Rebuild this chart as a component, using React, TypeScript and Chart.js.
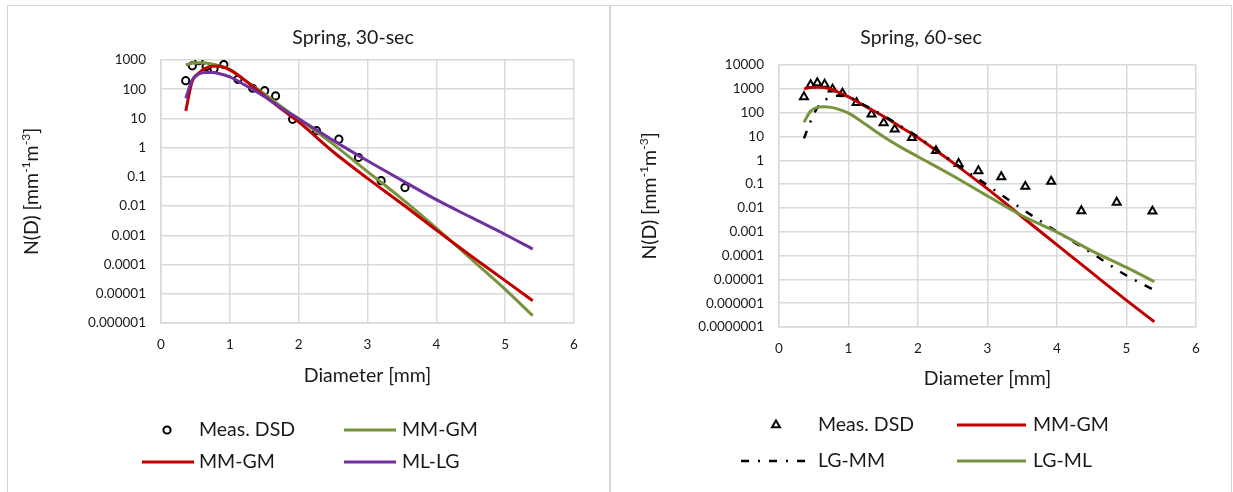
import React, { useEffect, useRef } from "react";
import { Chart, registerables } from "chart.js";

Chart.register(...registerables);

const FONT = "Lato, 'Open Sans', sans-serif";
const TEXT = "#1a1a1a";
const GRID = "#d9d9d9";

// ---------- data ----------
// Joss-Waldvogel RD-80 class mean diameters [mm]
const D_MEAS = [0.359, 0.455, 0.551, 0.656, 0.771, 0.913, 1.116, 1.331, 1.506, 1.665, 1.912, 2.259, 2.584, 2.869, 3.198, 3.544, 3.916, 4.35, 4.859, 5.373];
// diameters at which the fitted curves were read [mm]
const D_FIT = [0.36, 0.45, 0.55, 0.65, 0.75, 0.85, 1.0, 1.25, 1.5, 1.75, 2.0, 2.5, 3.0, 3.5, 4.0, 4.5, 5.0, 5.4];

// Spring, 30-sec
const S30_MEAS = [196, 630, 950, 590, 500, 700, 218, 108, 89, 59, 9.3, 3.8, 1.95, 0.46, 0.074, 0.043];
const S30_MMGM_GREEN = [676, 776, 813, 794, 724, 631, 479, 178, 70.8, 25.1, 9.55, 1.32, 0.151, 0.0178, 0.00178, 1.58e-4, 1.41e-5, 1.78e-6];
const S30_MMGM_RED = [18.2, 178, 355, 525, 617, 617, 457, 178, 60.3, 20.9, 7.59, 0.724, 0.0891, 0.012, 0.00151, 2.0e-4, 2.82e-5, 5.75e-6];
const S30_MLLG = [49, 200, 331, 372, 372, 339, 263, 126, 56.2, 22.4, 9.77, 1.78, 0.355, 0.0759, 0.0166, 0.00417, 0.00107, 3.39e-4];

// Spring, 60-sec
const S60_MEAS = [460, 1450, 1780, 1540, 960, 650, 260, 87, 37, 20, 8.9, 2.5, 0.72, 0.36, 0.2, 0.079, 0.13, 0.0075, 0.017, 0.0072];
const S60_MMGM = [1000, 1122, 1175, 1122, 955, 724, 457, 178, 70.8, 25.1, 8.91, 0.794, 0.0631, 0.00417, 2.82e-4, 1.91e-5, 1.32e-6, 1.66e-7];
const S60_LGMM = [8.32, 39.8, 158, 316, 447, 513, 457, 191, 75.9, 27.5, 9.55, 0.871, 0.0891, 0.00891, 0.001, 1.26e-4, 1.45e-5, 3.55e-6];
const S60_LGML = [39.8, 112, 166, 178, 166, 141, 95.5, 31.6, 10, 3.55, 1.41, 0.224, 0.0316, 0.00468, 9.55e-4, 1.58e-4, 3.16e-5, 7.94e-6];

// ticks
const X_TICKS = [0, 1, 2, 3, 4, 5, 6];
const X_LABELS = ["0", "1", "2", "3", "4", "5", "6"];
const Y_TICKS_30 = [1e-6, 1e-5, 1e-4, 1e-3, 1e-2, 1e-1, 1, 10, 100, 1000];
const Y_LABELS_30 = ["0.000001", "0.00001", "0.0001", "0.001", "0.01", "0.1", "1", "10", "100", "1000"];
const Y_TICKS_60 = [1e-7, 1e-6, 1e-5, 1e-4, 1e-3, 1e-2, 1e-1, 1, 10, 100, 1000, 10000];
const Y_LABELS_60 = ["0.0000001", "0.000001", "0.00001", "0.0001", "0.001", "0.01", "0.1", "1", "10", "100", "1000", "10000"];

const TITLE_30 = "Spring, 30-sec";
const TITLE_60 = "Spring, 60-sec";
const X_TITLE = "Diameter [mm]";
const Y_TITLE_PARTS = [
  { t: "N(D) [mm", sup: false },
  { t: "-1", sup: true },
  { t: "m", sup: false },
  { t: "-3", sup: true },
  { t: "]", sup: false },
];

const pts = (xs: number[], ys: number[]) => ys.map((y, i) => ({ x: xs[i], y }));

// ---------- plugins ----------
const excelTitle = {
  id: "excelTitle",
  afterDraw(chart: any, _args: any, opts: any) {
    const ctx = chart.ctx as CanvasRenderingContext2D;
    ctx.save();
    ctx.font = `normal ${opts.size}px ${FONT}`;
    ctx.fillStyle = TEXT;
    ctx.textAlign = "center";
    ctx.textBaseline = "middle";
    ctx.fillText(opts.text, opts.x, opts.y);
    ctx.restore();
  },
};

const excelLegend = {
  id: "excelLegend",
  afterDraw(chart: any, _args: any, opts: any) {
    const ctx = chart.ctx as CanvasRenderingContext2D;
    ctx.save();
    for (const it of opts.items) {
      const ds = chart.data.datasets[it.index];
      if (it.marker) {
        ctx.setLineDash([]);
        ctx.strokeStyle = ds.pointBorderColor;
        ctx.lineWidth = ds.pointBorderWidth;
        ctx.beginPath();
        const r = ds.pointRadius;
        if (ds.pointStyle === "triangle") {
          let rad = 0;
          ctx.moveTo(it.mx + Math.sin(rad) * r, it.y - Math.cos(rad) * r);
          rad += (2 * Math.PI) / 3;
          ctx.lineTo(it.mx + Math.sin(rad) * r, it.y - Math.cos(rad) * r);
          rad += (2 * Math.PI) / 3;
          ctx.lineTo(it.mx + Math.sin(rad) * r, it.y - Math.cos(rad) * r);
          ctx.closePath();
        } else {
          ctx.arc(it.mx, it.y, r, 0, Math.PI * 2);
        }
        ctx.stroke();
      } else {
        ctx.setLineDash(ds.borderDash || []);
        ctx.strokeStyle = ds.borderColor;
        ctx.lineWidth = ds.borderWidth;
        ctx.lineCap = "butt";
        ctx.beginPath();
        ctx.moveTo(it.x0, it.y);
        ctx.lineTo(it.x1, it.y);
        ctx.stroke();
      }
      ctx.setLineDash([]);
      ctx.font = `normal ${opts.size}px ${FONT}`;
      ctx.fillStyle = TEXT;
      ctx.textAlign = "left";
      ctx.textBaseline = "middle";
      ctx.fillText(ds.label, it.tx, it.y);
    }
    ctx.restore();
  },
};

const yTitle = {
  id: "yTitle",
  afterDraw(chart: any, _args: any, opts: any) {
    const ctx = chart.ctx as CanvasRenderingContext2D;
    const ca = chart.chartArea;
    const size = opts.size;
    const supSize = size * 0.62;
    ctx.save();
    ctx.translate(opts.x, (ca.top + ca.bottom) / 2);
    ctx.rotate(-Math.PI / 2);
    ctx.fillStyle = TEXT;
    ctx.textAlign = "left";
    ctx.textBaseline = "middle";
    let total = 0;
    for (const p of Y_TITLE_PARTS) {
      ctx.font = `normal ${p.sup ? supSize : size}px ${FONT}`;
      total += ctx.measureText(p.t).width;
    }
    let x = -total / 2;
    for (const p of Y_TITLE_PARTS) {
      ctx.font = `normal ${p.sup ? supSize : size}px ${FONT}`;
      ctx.fillText(p.t, x, p.sup ? -size * 0.3 : 0);
      x += ctx.measureText(p.t).width;
    }
    ctx.restore();
  },
};

// ---------- config ----------
type Spec = {
  w: number;
  h: number;
  padT: number;
  padR: number;
  padB: number;
  yAxisW: number;
  xAxisH: number;
  title: string;
  titleX: number;
  titleY: number;
  yMin: number;
  yMax: number;
  yTicks: number[];
  yLabels: string[];
  yTitleX: number;
  datasets: any[];
  legend: any[];
};

function buildConfig(s: Spec): any {
  const tickFont = { family: FONT, size: 13.5 };
  const bigFont = { family: FONT, size: 19.5, weight: "normal" as const };
  return {
    type: "line",
    data: { datasets: s.datasets },
    plugins: [excelTitle, excelLegend, yTitle],
    options: {
      animation: false,
      responsive: false,
      devicePixelRatio: 1,
      events: [],
      layout: { padding: { top: s.padT, left: 0, right: s.padR, bottom: s.padB } },
      plugins: {
        legend: { display: false },
        tooltip: { enabled: false },
        title: { display: false },
        excelTitle: { size: 19.5, text: s.title, x: s.titleX, y: s.titleY },
        excelLegend: { size: 19.5, items: s.legend },
        yTitle: { size: 19.5, x: s.yTitleX },
      },
      scales: {
        x: {
          type: "linear",
          min: 0,
          max: 6,
          afterBuildTicks: (sc: any) => {
            sc.ticks = X_TICKS.map((v) => ({ value: v }));
          },
          afterFit: (sc: any) => {
            sc.height = s.xAxisH;
          },
          ticks: {
            autoSkip: false,
            maxRotation: 0,
            padding: 14,
            color: TEXT,
            font: tickFont,
            callback: (_v: any, i: number) => X_LABELS[i],
          },
          grid: { color: GRID, lineWidth: 1.5, drawTicks: false },
          border: { color: GRID, width: 1.5 },
          title: { display: true, text: X_TITLE, color: TEXT, font: bigFont, padding: 0 },
        },
        y: {
          type: "logarithmic",
          min: s.yMin,
          max: s.yMax,
          afterBuildTicks: (sc: any) => {
            sc.ticks = s.yTicks.map((v) => ({ value: v }));
          },
          afterFit: (sc: any) => {
            sc.width = s.yAxisW;
          },
          ticks: {
            autoSkip: false,
            padding: 15,
            color: TEXT,
            font: tickFont,
            callback: (_v: any, i: number) => s.yLabels[i],
          },
          grid: { color: GRID, lineWidth: 1.5, drawTicks: false },
          border: { color: GRID, width: 1.5 },
        },
      },
    },
  };
}

const lineDs = (label: string, data: any[], color: string, order: number, extra: any = {}) => ({
  label,
  data,
  borderColor: color,
  backgroundColor: color,
  borderWidth: 3,
  pointRadius: 0,
  fill: false,
  cubicInterpolationMode: "monotone",
  order,
  ...extra,
});

const measDs = (data: any[], style: string, radius: number) => ({
  label: "Meas. DSD",
  data,
  showLine: false,
  pointStyle: style,
  pointRadius: radius,
  pointBorderWidth: 2,
  pointBorderColor: "#000000",
  pointBackgroundColor: "rgba(0,0,0,0)",
  borderColor: "#000000",
  backgroundColor: "rgba(0,0,0,0)",
  order: 10,
});

const RED = "#c00000";
const GREEN = "#77933c";
const PURPLE = "#7030a0";

const SPEC_30: Spec = {
  w: 601,
  h: 486,
  padT: 54,
  padR: 35,
  padB: 104.3,
  yAxisW: 153,
  xAxisH: 64.7,
  title: TITLE_30,
  titleX: 345,
  titleY: 32,
  yMin: 1e-6,
  yMax: 1000,
  yTicks: Y_TICKS_30,
  yLabels: Y_LABELS_30,
  yTitleX: 24,
  datasets: [
    measDs(pts(D_MEAS, S30_MEAS), "circle", 3.6),
    lineDs("MM-GM", pts(D_FIT, S30_MMGM_GREEN), GREEN, 2),
    lineDs("MM-GM", pts(D_FIT, S30_MMGM_RED), RED, 1),
    lineDs("ML-LG", pts(D_FIT, S30_MLLG), PURPLE, 0),
  ],
  legend: [
    { index: 0, marker: true, mx: 159, y: 424, tx: 191 },
    { index: 1, x0: 336, x1: 388, y: 424, tx: 394 },
    { index: 2, x0: 134, x1: 186, y: 456, tx: 191 },
    { index: 3, x0: 336, x1: 388, y: 456, tx: 394 },
  ],
};

const SPEC_60: Spec = {
  w: 620,
  h: 486,
  padT: 59,
  padR: 35,
  padB: 101.3,
  yAxisW: 168,
  xAxisH: 63.7,
  title: TITLE_60,
  titleX: 310,
  titleY: 32,
  yMin: 1e-7,
  yMax: 10000,
  yTicks: Y_TICKS_60,
  yLabels: Y_LABELS_60,
  yTitleX: 39,
  datasets: [
    measDs(pts(D_MEAS, S60_MEAS), "triangle", 4.6),
    lineDs("MM-GM", pts(D_FIT, S60_MMGM), RED, 2),
    lineDs("LG-MM", pts(D_FIT, S60_LGMM), "#000000", 1, { borderWidth: 2.5, borderDash: [8, 9, 2, 9] }),
    lineDs("LG-ML", pts(D_FIT, S60_LGML), GREEN, 0),
  ],
  legend: [
    { index: 0, marker: true, mx: 165, y: 419, tx: 207 },
    { index: 1, x0: 346, x1: 415, y: 419, tx: 422 },
    { index: 2, x0: 130, x1: 197, y: 455, tx: 207 },
    { index: 3, x0: 346, x1: 415, y: 455, tx: 422 },
  ],
};

function Panel({ spec, left, width }: { spec: Spec; left: number; width: number }) {
  const ref = useRef<HTMLCanvasElement>(null);
  useEffect(() => {
    const chart = new Chart(ref.current as HTMLCanvasElement, buildConfig(spec));
    return () => chart.destroy();
  }, [spec]);
  return (
    <div
      style={{
        position: "absolute",
        left,
        top: 5,
        width,
        height: 490,
        boxSizing: "border-box",
        border: "1px solid #d6d6d6",
        background: "#ffffff",
      }}
    >
      <canvas
        ref={ref}
        width={spec.w}
        height={spec.h}
        style={{ display: "block", width: spec.w, height: spec.h }}
      />
    </div>
  );
}

export default function App() {
  return (
    <div
      style={{
        position: "absolute",
        left: 0,
        top: 0,
        width: 1233,
        height: 492,
        overflow: "hidden",
        background: "#ffffff",
      }}
    >
      <Panel spec={SPEC_30} left={7} width={603} />
      <Panel spec={SPEC_60} left={610} width={622} />
    </div>
  );
}
